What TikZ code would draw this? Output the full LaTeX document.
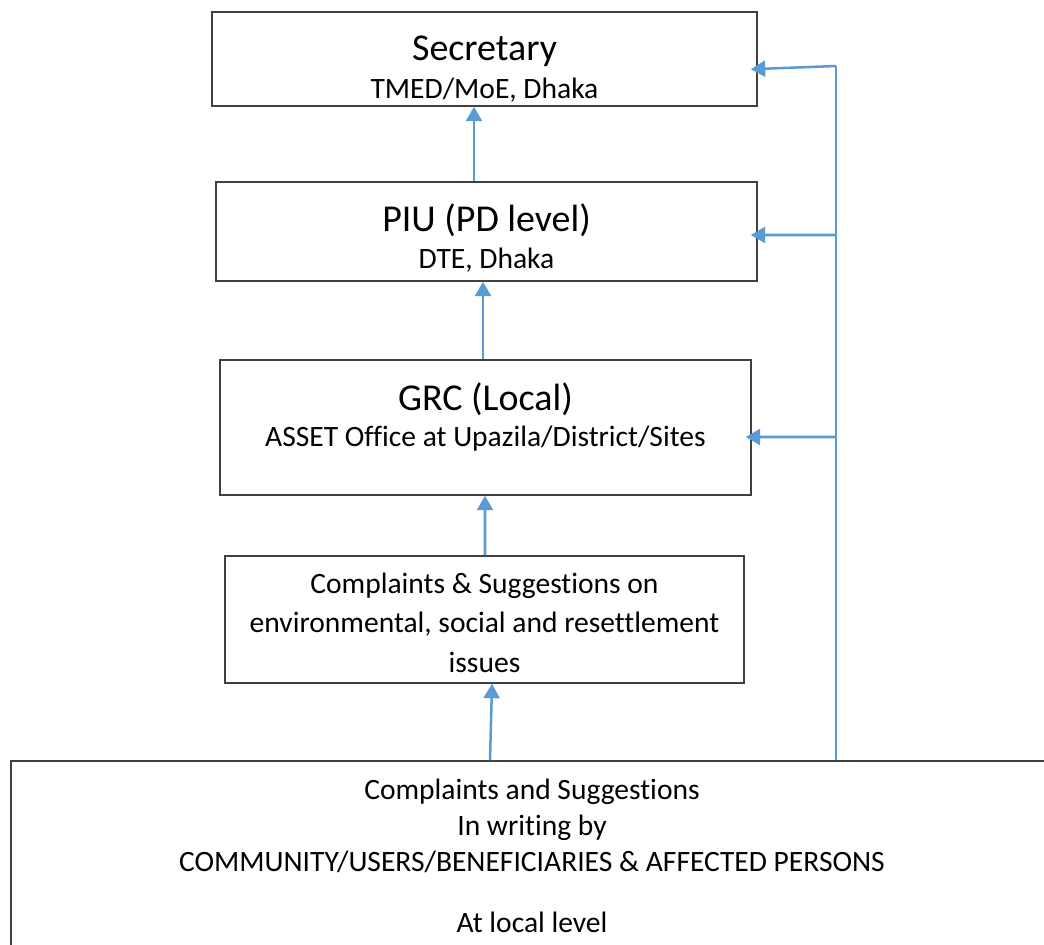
\documentclass[tikz,border=0pt]{standalone}
\usepackage{fontspec}
\setmainfont{Carlito}[Ligatures=NoCommon]
\usetikzlibrary{calc,arrows.meta}
\definecolor{flowblue}{HTML}{5B9BD5}
\definecolor{edgegray}{HTML}{404040}
\def\u{0.025cm}
\def\titlefont{\fontsize{27}{29}\selectfont}
\def\textfont{\fontsize{21}{29}\selectfont}
\tikzset{
	box/.style={draw=edgegray, line width=1.1pt, inner sep=0pt},
	words/.style={align=center, inner sep=0pt},
	flow/.style={draw=flowblue, line width=1.8pt, -{Triangle[length=3.6mm,width=4mm]}},
	rail/.style={draw=flowblue, line width=1.1pt},
}

\begin{document}
\begin{tikzpicture}[x=0.025cm, y=-0.025cm]
		%%%%% START %%%%%
		
		\useasboundingbox (0, 0) rectangle (1044, 945);
		
		\node[box, minimum width=545*\u, minimum height=94*\u] (sec) at (484.5, 59) {};
		\node[box, minimum width=541*\u, minimum height=99*\u] (piu) at (486.5, 231.5) {};
		\node[box, minimum width=531*\u, minimum height=135*\u] (grc) at (485.5, 427.5) {};
		\node[box, minimum width=519*\u, minimum height=127*\u] (cmp) at (484.5, 619.5) {};
		
		\node[words] (sectxt) at ($(sec)+(0, 10)$) {\titlefont Secretary\\[6.5pt] \textfont TMED/MoE, Dhaka};
		\node[words] (piutxt) at ($(piu)+(0, 6.5)$) {\titlefont PIU (PD level)\\[6.5pt] \textfont DTE, Dhaka};
		\node[words] (grctxt) at ($(grc)+(0, -10.5)$) {\titlefont GRC (Local)\\[6.5pt] \textfont ASSET Office at Upazila/District/Sites};
		\node[words, font=\fontsize{21}{28}\selectfont] (cmptxt) at ($(cmp)+(0, 3)$) {Complaints \& Suggestions on\\environmental, social and resettlement\\issues};
		
		\begin{scope}
			\clip (0, 0) rectangle (1044, 945);
			\node[box, minimum width=1049*\u, minimum height=200*\u] (src) at (535.5, 861) {};
		\end{scope}
		\node[words, font=\fontsize{21}{25.5}\selectfont] (srctxt) at (532, 856) {Complaints and Suggestions\\In writing by\\COMMUNITY/USERS/BENEFICIARIES \& AFFECTED PERSONS\\[18pt]At local level};
		
		% upward chain
		\draw[flow] ($(src.north)+(-45.5, 0)$) -- ($(cmp.south)+(7.5, 0)$);
		\draw[flow] ($(cmp.north)+(0.5, 0)$) -- ($(grc.south)+(-0.5, 0)$);
		\draw[flow] ($(grc.north)+(-2.5, 0)$) -- ($(piu.south)+(-3.5, 0)$);
		\draw[flow] ($(piu.north)+(-12.5, 0)$) -- ($(sec.south)+(-10.5, 0)$);
		
		% side rail
		\coordinate (tap1) at (836, 66);
		\coordinate (tap2) at (836, 235);
		\coordinate (tap3) at (836, 437);
		\draw[rail] (tap1) -- (tap1 |- src.north);
		\draw[flow, shorten >=-7*\u] (tap1) -- ($(sec.east)+(0, 10)$);
		\draw[flow, shorten >=-7*\u] (tap2) -- ($(piu.east)+(0, 3.5)$);
		\draw[flow, shorten >=-6*\u] (tap3) -- ($(grc.east)+(0, 9.5)$);
		
		%%%%% END %%%%%
	\end{tikzpicture}
\end{document}
